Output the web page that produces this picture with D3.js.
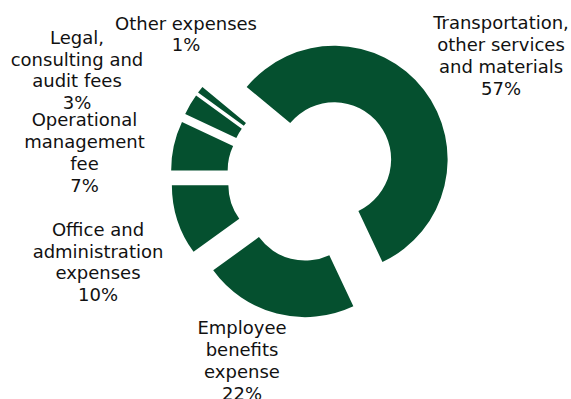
<!DOCTYPE html>
<html>
<head>
<meta charset="utf-8">
<script src="https://cdn.jsdelivr.net/npm/d3@7"></script>
<style>
  html, body { margin: 0; padding: 0; background: #ffffff; }
  svg { display: block; }
  text { font-family: "DejaVu Sans", Verdana, sans-serif; font-size: 18px; fill: #111; }
</style>
</head>
<body>
<div id="chart"></div>
<script>
// Expense breakdown (share of total, %)
const categories = [
  "Transportation, other services and materials",
  "Employee benefits expense",
  "Office and administration expenses",
  "Operational management fee",
  "Legal, consulting and audit fees",
  "Other expenses"
];
const shares = [57, 22, 10, 7, 3, 1];
const labelLines = [
  ["Transportation,", "other services", "and materials"],
  ["Employee", "benefits", "expense"],
  ["Office and", "administration", "expenses"],
  ["Operational", "management", "fee"],
  ["Legal,", "consulting and", "audit fees"],
  ["Other expenses"]
];

// Layout
const width = 571, height = 399;
const cx = 312, cy = 176.5;
const outerR = 113.5, innerR = 57;
const explode = 28;
const startDeg = -50.4;
const lineH = 21.8;
// label block centres, relative to the pie centre
const labelOffsets = [
  [189, -121], [-70, 184], [-214, 85.5], [-227.5, -24], [-235, -106.5], [-126, -142.5]
];

const data = categories.map((c, i) => ({ name: c, value: shares[i], lines: labelLines[i], off: labelOffsets[i] }));

const svg = d3.select("#chart").append("svg")
  .attr("width", width).attr("height", height);

const start = startDeg * Math.PI / 180;
const pie = d3.pie().value(d => d.value).sort(null)
  .startAngle(start).endAngle(start + 2 * Math.PI);
const arc = d3.arc().innerRadius(innerR).outerRadius(outerR);

const g = svg.append("g").attr("transform", `translate(${cx},${cy})`);

g.selectAll("path.slice")
  .data(pie(data))
  .join("path")
  .attr("class", "slice")
  .attr("fill", "#05502f")
  .attr("transform", d => {
    const a = (d.startAngle + d.endAngle) / 2;
    return `translate(${explode * Math.sin(a)},${-explode * Math.cos(a)})`;
  })
  .attr("d", arc);

// category labels with percentage on the last line
const labels = g.selectAll("text.label")
  .data(data)
  .join("text")
  .attr("class", "label")
  .attr("text-anchor", "middle");

labels.each(function(d) {
  const lines = d.lines.concat([d3.format("d")(d.value) + "%"]);
  const n = lines.length;
  d3.select(this).selectAll("tspan")
    .data(lines)
    .join("tspan")
    .attr("x", d.off[0])
    .attr("y", (t, i) => d.off[1] + (i - (n - 1) / 2) * lineH + 6.5)
    .text(t => t);
});
</script>
</body>
</html>
